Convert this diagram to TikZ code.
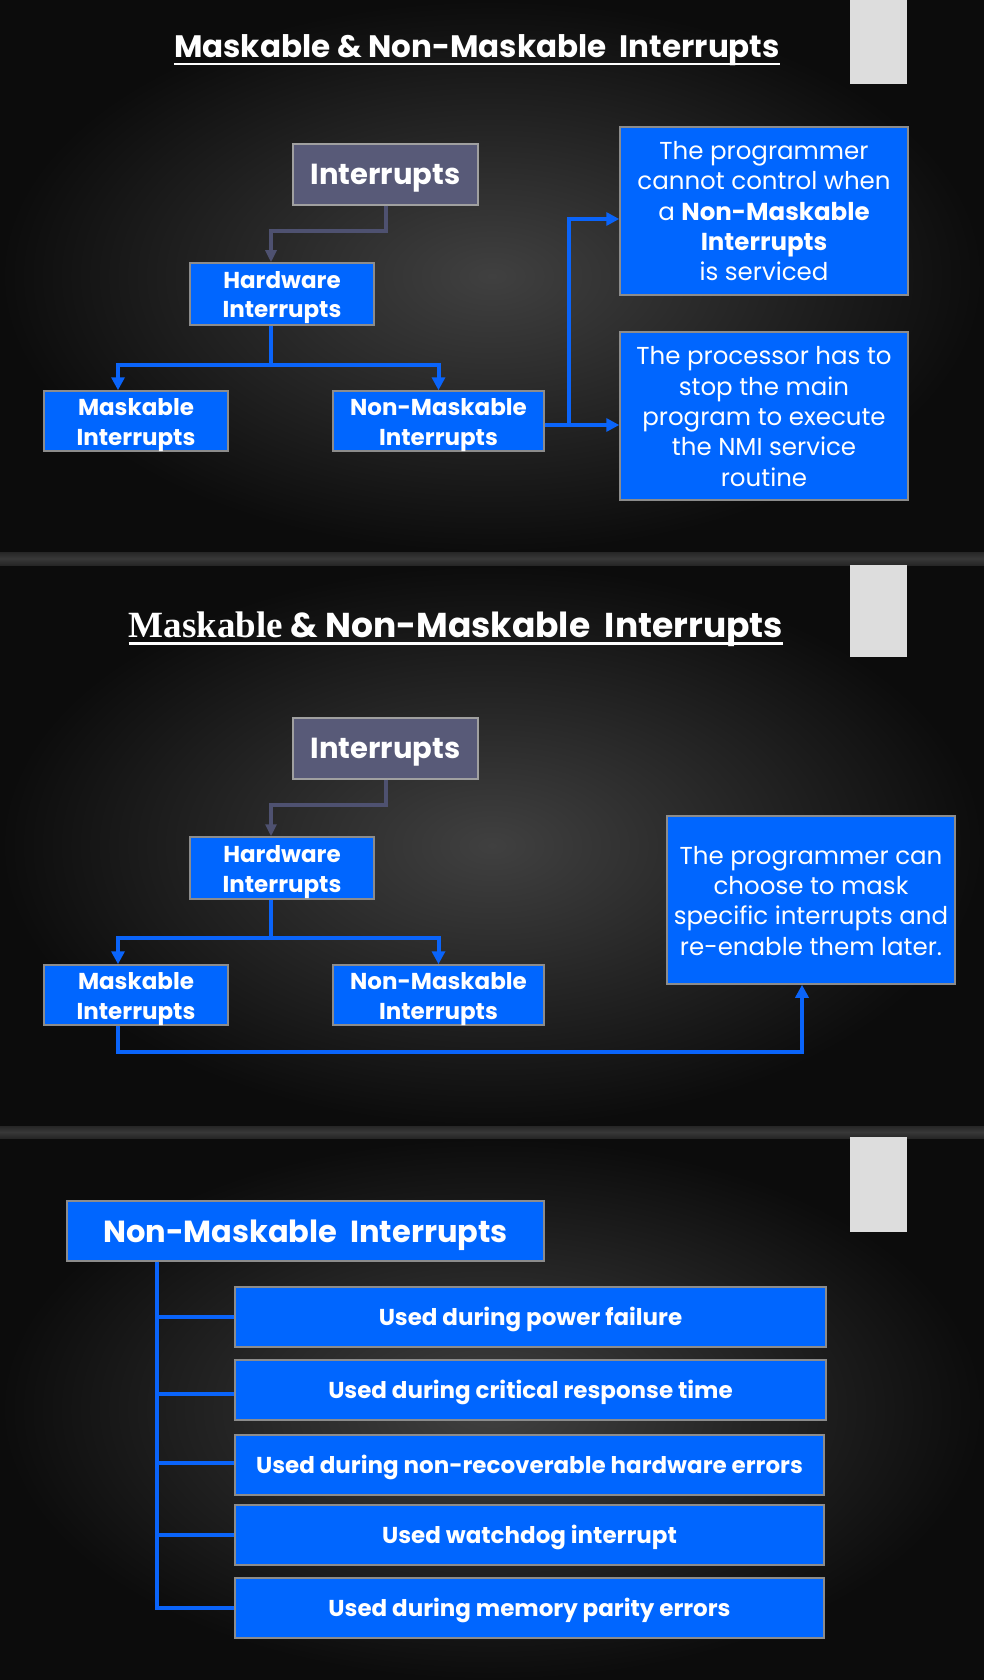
\documentclass[tikz,border=0pt]{standalone}
\usepackage{fontspec}
\setmainfont{Poppins}
\newfontfamily\serifttl{Liberation Serif}
\usetikzlibrary{arrows.meta}
\newcommand{\dnbox}[2]{\raisebox{-#1}[\height][\depth]{\begin{tabular}{@{}c@{}}#2\end{tabular}}}
\definecolor{boxblue}{RGB}{0,102,255}
\definecolor{boxedge}{RGB}{140,140,140}
\definecolor{intfill}{RGB}{88,90,120}
\definecolor{intedge}{RGB}{160,160,160}
\definecolor{glinecol}{RGB}{78,81,112}
\definecolor{blinecol}{RGB}{10,100,250}
\definecolor{bginner}{RGB}{64,64,64}
\definecolor{bgouter}{RGB}{12,12,12}
\definecolor{sepmid}{RGB}{56,56,56}
\definecolor{sepedge}{RGB}{38,38,38}
\definecolor{tabgray}{RGB}{221,221,221}
\tikzset{
  bluebox/.style={draw=boxedge, line width=1.5pt, fill=boxblue, text=white, inner sep=0pt},
  intbox/.style={draw=intedge, line width=1.5pt, fill=intfill, text=white, inner sep=0pt},
  bconn/.style={draw=blinecol, line width=4pt},
  barrow/.style={bconn, -{Triangle[length=13pt,width=13pt]}},
  garrow/.style={draw=glinecol, line width=4pt, -{Triangle[length=12pt,width=11pt]}},
  boldtxt/.style={font=\bfseries\fontsize{23}{30}\selectfont},
  regtxt/.style={font=\fontsize{24.5}{30.3}\selectfont},
  titletxt/.style={text=white, inner sep=0pt, anchor=base},
}
\begin{document}
\begin{tikzpicture}[x=1pt,y=-1pt]
\useasboundingbox (0,0) rectangle (984,1680);
% backgrounds
\fill[bgouter] (0,0) rectangle (984,1680);
\shade[inner color=bginner, outer color=bgouter] (0,0) rectangle (984,552);
\shade[inner color=bginner, outer color=bgouter] (0,565) rectangle (984,1126);
\shade[inner color=bginner, outer color=bgouter] (0,1138) rectangle (984,1680);
\shade[top color=sepedge, bottom color=sepedge, middle color=sepmid] (0,552) rectangle (984,565);
\shade[top color=sepedge, bottom color=sepedge, middle color=sepmid] (0,1126) rectangle (984,1138);
\fill[tabgray] (850,0) rectangle (907,84);
\fill[tabgray] (850,565) rectangle (907,657);
\fill[tabgray] (850,1137) rectangle (907,1232);

% ---------- Panel 1 ----------
\node[titletxt, font=\bfseries\fontsize{31}{31}\selectfont] (t1) at (477,58) {Maskable \& Non-Maskable\ \ Interrupts};
\draw[white, line width=2.5pt] ([yshift=-6pt]t1.base west) -- ([yshift=-6pt]t1.base east);

\node[intbox, minimum width=185pt, minimum height=61pt, font=\bfseries\fontsize{29}{29}\selectfont] (intA) at (385.5,174.5) {\dnbox{4.3pt}{Interrupts}};
\node[bluebox, boldtxt, minimum width=184pt, minimum height=62pt] (hwA) at (282,294) {\dnbox{3pt}{Hardware\\Interrupts}};
\node[bluebox, boldtxt, minimum width=184pt, minimum height=60pt] (mA) at (136,421) {\dnbox{3pt}{Maskable\\Interrupts}};
\node[bluebox, boldtxt, minimum width=211pt, minimum height=60pt] (nA) at (438.5,421) {\dnbox{3pt}{Non-Maskable\\Interrupts}};
\node[bluebox, regtxt, minimum width=288pt, minimum height=168pt] (trA) at (764,211) {\dnbox{3pt}{The programmer\\cannot control when\\a \textbf{Non-Maskable}\\\textbf{Interrupts}\\is serviced}};
\node[bluebox, regtxt, minimum width=288pt, minimum height=168pt] (brA) at (764,416) {\dnbox{3.5pt}{The processor has to\\stop the main\\program to execute\\the NMI service\\routine}};

\draw[garrow] (intA.south) -- ++(0,25) -| ([xshift=-11pt]hwA.north);
\draw[barrow] ([xshift=-11pt]hwA.south) -- ++(0,39) -| ([xshift=-18pt]mA.north);
\draw[barrow] ([xshift=-11pt]hwA.south) -- ++(0,39) -| (nA.north);
\draw[barrow] ([yshift=-4pt]nA.east) -- ([yshift=-9pt]brA.west);
\draw[barrow] ([yshift=-4pt]nA.east) -- ++(24,0) |- ([yshift=-8pt]trA.west);

% ---------- Panel 2 ----------
\node[titletxt, font=\bfseries\fontsize{34.5}{34.5}\selectfont] (t2) at (456,637) {{\serifttl\fontsize{37}{37}\selectfont Maskable} \& Non-Maskable\ \ Interrupts};
\draw[white, line width=3pt] ([yshift=-6pt]t2.base west) -- ([yshift=-6pt]t2.base east);

\node[intbox, minimum width=185pt, minimum height=61pt, font=\bfseries\fontsize{29}{29}\selectfont] (intB) at (385.5,748.5) {\dnbox{4.3pt}{Interrupts}};
\node[bluebox, boldtxt, minimum width=184pt, minimum height=62pt] (hwB) at (282,868) {\dnbox{3pt}{Hardware\\Interrupts}};
\node[bluebox, boldtxt, minimum width=184pt, minimum height=60pt] (mB) at (136,995) {\dnbox{3pt}{Maskable\\Interrupts}};
\node[bluebox, boldtxt, minimum width=211pt, minimum height=60pt] (nB) at (438.5,995) {\dnbox{3pt}{Non-Maskable\\Interrupts}};
\node[bluebox, regtxt, minimum width=288pt, minimum height=168pt] (rB) at (811,900) {\dnbox{3.5pt}{The programmer can\\choose to mask\\specific interrupts and\\re-enable them later.}};

\draw[garrow] (intB.south) -- ++(0,25) -| ([xshift=-11pt]hwB.north);
\draw[barrow] ([xshift=-11pt]hwB.south) -- ++(0,38) -| ([xshift=-18pt]mB.north);
\draw[barrow] ([xshift=-11pt]hwB.south) -- ++(0,38) -| (nB.north);
\draw[barrow] ([xshift=-18pt]mB.south) -- ++(0,26) -| ([xshift=-9pt]rB.south);

% ---------- Panel 3 ----------
\node[bluebox, minimum width=477pt, minimum height=60pt, font=\bfseries\fontsize{30.5}{30.5}\selectfont] (nmi) at (305.5,1231) {\dnbox{5.2pt}{Non-Maskable\ \ Interrupts}};
\node[bluebox, boldtxt, minimum width=591pt, minimum height=60pt] (i1) at (530.5,1317) {\dnbox{2.7pt}{Used during power failure}};
\node[bluebox, boldtxt, minimum width=591pt, minimum height=60pt] (i2) at (530.5,1390) {\dnbox{2.7pt}{Used during critical response time}};
\node[bluebox, boldtxt, minimum width=589pt, minimum height=60pt] (i3) at (529.5,1465) {\dnbox{2.7pt}{Used during non-recoverable hardware errors}};
\node[bluebox, boldtxt, minimum width=589pt, minimum height=60pt] (i4) at (529.5,1535) {\dnbox{2.7pt}{Used watchdog interrupt}};
\node[bluebox, boldtxt, minimum width=589pt, minimum height=60pt] (i5) at (529.5,1608) {\dnbox{2.7pt}{Used during memory parity errors}};

\coordinate (trunk) at ([xshift=-148.5pt]nmi.south);
\draw[bconn] (trunk) |- (i1.west);
\draw[bconn] (trunk) |- ([yshift=-4pt]i2.west);
\draw[bconn] (trunk) |- ([yshift=2pt]i3.west);
\draw[bconn] (trunk) |- (i4.west);
\draw[bconn] (trunk) |- (i5.west);
\end{tikzpicture}
\end{document}
